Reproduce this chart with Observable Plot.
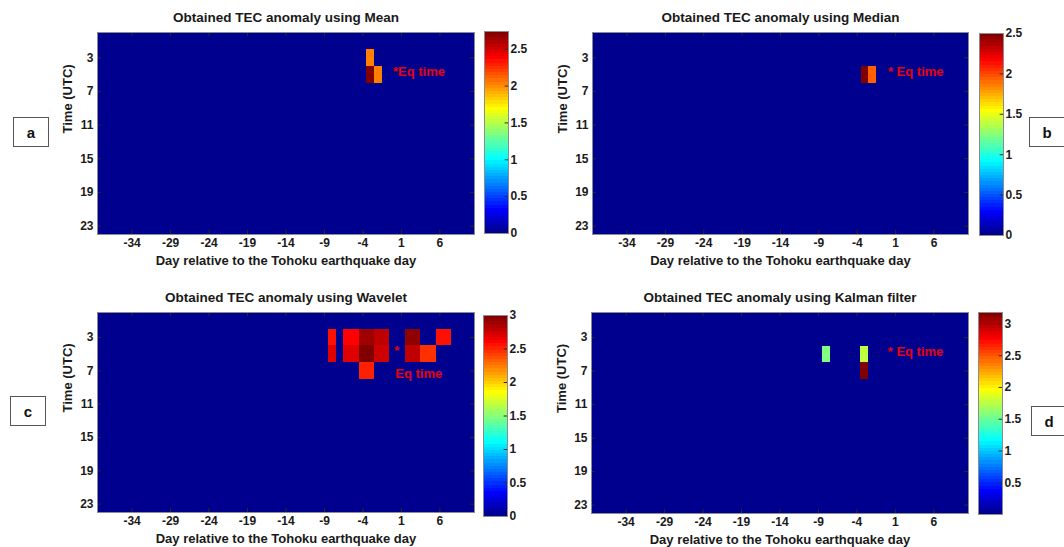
<!DOCTYPE html>
<html><head><meta charset="utf-8">
<script src="https://cdn.jsdelivr.net/npm/d3@7"></script>
<script src="https://cdn.jsdelivr.net/npm/@observablehq/plot@0.6"></script>
<style>
html,body{margin:0;padding:0;background:#fff;}
#root{position:relative;width:1064px;height:547px;overflow:hidden;font-family:"Liberation Sans",Arial,sans-serif;background:#fff;}
.box{position:absolute;border:1px solid #555;background:#fff;font-weight:bold;font-size:15px;display:flex;align-items:center;justify-content:center;color:#111;box-sizing:border-box;font-family:"Liberation Sans",Arial,sans-serif;}
</style></head><body><div id="root"></div>
<script>
// ---- data ----
const days = [-38,-37,-36,-35,-34,-33,-32,-31,-30,-29,-28,-27,-26,-25,-24,-23,-22,-21,-20,-19,-18,-17,-16,-15,-14,-13,-12,-11,-10,-9,-8,-7,-6,-5,-4,-3,-2,-1,0,1,2,3,4,5,6,7,8,9,10];
const hours = [1,3,5,7,9,11,13,15,17,19,21,23];
const dayTicks = [-34,-29,-24,-19,-14,-9,-4,1,6];
const hourTicks = [3,7,11,15,19,23];

const meanDays = [-3,-3,-2];
const meanHours = [3,5,5];
const meanValues = [2.05,2.74,2.05];
const meanTicks = [0,0.5,1,1.5,2,2.5];

const medianDays = [-3,-2];
const medianHours = [5,5];
const medianValues = [2.5,1.94];
const medianTicks = [0,0.5,1,1.5,2,2.5];

const waveletDays   = [-8,-8,-6,-6,-5,-5,-4,-4,-4,-3,-3,-3,-2,-2,-1,-1,2,2,3,3,4,5,6,7];
const waveletHours  = [3,5,3,5,3,5,3,5,7,3,5,7,3,5,3,5,3,5,3,5,5,5,3,3];
const waveletValues = [2.56,2.7,2.6,2.7,2.6,2.7,2.88,3.0,2.51,2.88,3.0,2.51,2.78,2.74,2.78,2.74,2.93,2.78,2.93,2.78,2.46,2.46,2.56,2.56];
const waveletTicks = [0,0.5,1,1.5,2,2.5,3];

const kalmanDays = [-8,-3,-3];
const kalmanHours = [5,5,7];
const kalmanValues = [1.56,1.75,3.18];
const kalmanTicks = [0.5,1,1.5,2,2.5,3];

// ---- MATLAB jet(64) colormap ----
function jet64(t){
  let i = Math.floor(t*64); i = Math.max(0, Math.min(63, i)) + 1;
  const c = v => Math.max(0, Math.min(1, v));
  const r = c(Math.min((i-24)/16, 1, (72-i)/16));
  const g = c(Math.min((i-8)/16, 1, (56-i)/16));
  const b = c(Math.min((i+8)/16, 1, (40-i)/16));
  return `rgb(${Math.round(r*255)},${Math.round(g*255)},${Math.round(b*255)})`;
}

const FONT = "'Liberation Sans', Arial, Helvetica, sans-serif";
const root = document.getElementById("root");

function place(el, left, top){
  el.style.position = "absolute";
  el.style.left = left + "px";
  el.style.top = top + "px";
  el.style.background = "transparent";
  el.style.maxWidth = "none";
  root.appendChild(el);
}

function buildGrid(ds, hs, vs){
  const grid = [];
  for (const d of days) for (const h of hours) grid.push({day:d, hour:h, v:0});
  ds.forEach((d,k) => { const cell = grid.find(g => g.day === d && g.hour === hs[k]); cell.v = vs[k]; });
  return grid;
}

function panel(cfg){
  const mL = 60, mT = 30, mR = 8, mB = 40;
  const grid = buildGrid(cfg.ds, cfg.hs, cfg.vs);
  const svg = Plot.plot({
    width: cfg.w + mL + mR, height: cfg.h + mT + mB,
    marginLeft: mL, marginTop: mT, marginRight: mR, marginBottom: mB,
    style: {fontFamily: FONT, fontSize: "12px", fontWeight: "bold", color: "#1a1a1a", background: "transparent", overflow: "visible"},
    x: {domain: [-38.5, 10.5]},
    y: {domain: [0, 24], reverse: true},
    color: {type: "linear", domain: [cfg.min, cfg.max], interpolate: jet64},
    marks: [
      Plot.rect(grid, {x1: d => d.day - 0.5, x2: d => d.day + 0.5, y1: d => d.hour - 1, y2: d => d.hour + 1, fill: "v", shapeRendering: "crispEdges"}),
      Plot.ruleX(dayTicks, {x: d => d, y1: 24, y2: 23.5, stroke: "#2a2a2a"}),
      Plot.ruleX(dayTicks, {x: d => d, y1: 0, y2: 0.5, stroke: "#2a2a2a"}),
      Plot.ruleY(hourTicks, {y: d => d, x1: -38.5, x2: -38.0, stroke: "#2a2a2a"}),
      Plot.ruleY(hourTicks, {y: d => d, x1: 10.5, x2: 10.0, stroke: "#2a2a2a"}),
      Plot.frame({stroke: "#8c8c8c"}),
      Plot.axisX({ticks: dayTicks, tickSize: 0, tickPadding: 4, tickFormat: d => String(d), label: null}),
      Plot.axisY({ticks: hourTicks, tickSize: 0, tickPadding: 4, tickFormat: d => String(d), label: null}),
      Plot.text([cfg.title], {text: d => d, frameAnchor: "top", lineAnchor: "middle", dy: -15, fontSize: 13.5}),
      Plot.text(["Day relative to the Tohoku earthquake day"], {text: d => d, frameAnchor: "bottom", lineAnchor: "middle", dy: 26, fontSize: 13}),
      Plot.text(["Time (UTC)"], {text: d => d, frameAnchor: "left", lineAnchor: "middle", rotate: -90, dx: -30, fontSize: 13}),
      ...cfg.eq.map(e => Plot.text([e.label], {text: d => d, x: e.day, y: e.hour, textAnchor: e.anchor, lineAnchor: "middle", fill: "#e8000b", fontSize: 13}))
    ]
  });
  place(svg, cfg.left - mL, cfg.top - mT);
}

function colorbar(cfg){
  const mL = 0, mT = 8, mR = 32, mB = 8, n = 64;
  const bands = d3.range(n).map(i => ({y1: cfg.min + (cfg.max - cfg.min) * i / n, y2: cfg.min + (cfg.max - cfg.min) * (i + 1) / n, v: cfg.min + (cfg.max - cfg.min) * (i + 0.5) / n}));
  const svg = Plot.plot({
    width: cfg.w + mL + mR, height: cfg.h + mT + mB,
    marginLeft: mL, marginTop: mT, marginRight: mR, marginBottom: mB,
    style: {fontFamily: FONT, fontSize: "12px", fontWeight: "bold", color: "#1a1a1a", background: "transparent", overflow: "visible"},
    x: {domain: [0, 1], axis: null},
    y: {domain: [cfg.min, cfg.max]},
    color: {type: "linear", domain: [cfg.min, cfg.max], interpolate: jet64},
    marks: [
      Plot.rect(bands, {x1: 0, x2: 1, y1: "y1", y2: "y2", fill: "v", shapeRendering: "crispEdges"}),
      Plot.ruleY(cfg.ticks, {y: d => d, x1: 0.86, x2: 1, stroke: "#2a2a2a"}),
      Plot.frame({stroke: "#8c8c8c"}),
      Plot.axisY({ticks: cfg.ticks, anchor: "right", tickSize: 0, tickPadding: 2, tickFormat: d => String(d), label: null})
    ]
  });
  place(svg, cfg.left - mL, cfg.top - mT);
}

// Panel a: Mean
panel({title: "Obtained TEC anomaly using Mean", left: 97, top: 32, w: 377, h: 202,
  ds: meanDays, hs: meanHours, vs: meanValues, min: 0, max: 2.74,
  eq: [{label: "*Eq time", day: -0.1, hour: 4.7, anchor: "start"}]});
colorbar({left: 484, top: 31, w: 24, h: 202, min: 0, max: 2.74, ticks: meanTicks});

// Panel b: Median
panel({title: "Obtained TEC anomaly using Median", left: 592, top: 32, w: 376, h: 202,
  ds: medianDays, hs: medianHours, vs: medianValues, min: 0, max: 2.5,
  eq: [{label: "* Eq time", day: 0.0, hour: 4.7, anchor: "start"}]});
colorbar({left: 979, top: 33, w: 24, h: 202, min: 0, max: 2.5, ticks: medianTicks});

// Panel c: Wavelet
panel({title: "Obtained TEC anomaly using Wavelet", left: 97, top: 312, w: 377, h: 200,
  ds: waveletDays, hs: waveletHours, vs: waveletValues, min: 0, max: 3.0,
  eq: [{label: "*", day: 0.4, hour: 4.6, anchor: "middle"}, {label: "Eq time", day: 0.2, hour: 7.3, anchor: "start"}]});
colorbar({left: 483, top: 315, w: 24, h: 201, min: 0, max: 3.0, ticks: waveletTicks});

// Panel d: Kalman filter
panel({title: "Obtained TEC anomaly using Kalman filter", left: 591, top: 312, w: 377, h: 201,
  ds: kalmanDays, hs: kalmanHours, vs: kalmanValues, min: 0, max: 3.18,
  eq: [{label: "* Eq time", day: 0.0, hour: 4.7, anchor: "start"}]});
colorbar({left: 978, top: 312, w: 24, h: 202, min: 0, max: 3.18, ticks: kalmanTicks});

// Letter boxes
[["a", 13, 117], ["b", 1029, 117], ["c", 10, 396], ["d", 1031, 406]].forEach(([t, l, tp]) => {
  const b = document.createElement("div");
  b.className = "box"; b.textContent = t;
  b.style.left = l + "px"; b.style.top = tp + "px";
  b.style.width = "36px"; b.style.height = "30px";
  root.appendChild(b);
});
</script>
</body></html>
